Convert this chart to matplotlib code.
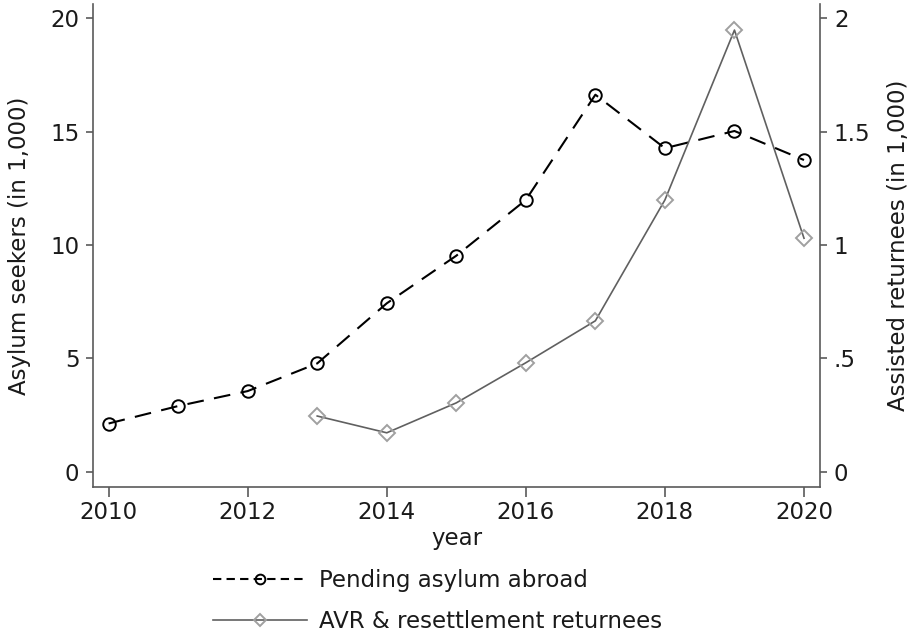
import numpy as np
import matplotlib.pyplot as plt
from matplotlib.lines import Line2D

years = [2010, 2011, 2012, 2013, 2014, 2015, 2016, 2017, 2018, 2019, 2020]
pending = [2.13, 2.90, 3.56, 4.78, 7.43, 9.53, 11.99, 16.63, 14.27, 15.03, 13.75]

avr_years = [2013, 2014, 2015, 2016, 2017, 2018, 2019, 2020]
avr = [0.246, 0.172, 0.304, 0.481, 0.666, 1.199, 1.948, 1.030]

left_ticks = [0, 5, 10, 15, 20]
right_ticks = [0, 0.5, 1, 1.5, 2]
right_labels = ['0', '.5', '1', '1.5', '2']
x_ticks = [2010, 2012, 2014, 2016, 2018, 2020]

plt.rcParams['font.family'] = 'DejaVu Sans'
plt.rcParams['font.size'] = 16.5

spine_col = '#5a5a5a'
text_col = '#1a1a1a'

fig = plt.figure(figsize=(9.1, 6.37), dpi=100)
ax = fig.add_axes([93.3 / 910, 1 - 487 / 637, (820 - 93.3) / 910, (487 - 4) / 637])
ax2 = ax.twinx()

ax.plot(years, pending, color='black', lw=1.5, dashes=(8, 5),
        marker='o', markersize=9, markerfacecolor='none',
        markeredgecolor='black', markeredgewidth=1.4)
ax2.plot(avr_years, avr, color='#606060', lw=1.2,
         marker='D', markersize=8, markerfacecolor='none',
         markeredgecolor='#a0a0a0', markeredgewidth=1.4)

ax.set_xlim(2009.78, 2020.23)
ax.set_ylim(-0.67, 20.63)
ax2.set_ylim(-0.067, 2.063)

ax.set_xticks(x_ticks)
ax.set_yticks(left_ticks)
ax2.set_yticks(right_ticks)
ax2.set_yticklabels(right_labels)

for a in (ax, ax2):
    a.spines['top'].set_visible(False)
    for s in a.spines.values():
        s.set_color(spine_col)
        s.set_linewidth(1.2)
    a.tick_params(length=5, width=1.2, color=spine_col, labelcolor=text_col, pad=5)
ax.tick_params(axis='x', length=7, pad=3)
ax.spines['right'].set_visible(False)
ax2.spines['left'].set_visible(False)
ax2.spines['bottom'].set_visible(False)

ax.set_xlabel('year', color=text_col, labelpad=2)
ax.set_ylabel('Asylum seekers (in 1,000)', color=text_col, labelpad=14)
ax2.set_ylabel('Assisted returnees (in 1,000)', color=text_col, labelpad=12)

handles = [
    Line2D([], [], color='black', lw=1.5, dashes=(4, 2.5), marker='o', markersize=7,
           markerfacecolor='none', markeredgecolor='black', markeredgewidth=1.4),
    Line2D([], [], color='#606060', lw=1.2, marker='D', markersize=6,
           markerfacecolor='none', markeredgecolor='#a0a0a0', markeredgewidth=1.4),
]
fig.legend(handles, ['Pending asylum abroad', 'AVR & resettlement returnees'],
           loc='center left', bbox_to_anchor=(192 / 910, 1 - 601 / 637),
           frameon=False, handlelength=4.1, handletextpad=0.55, labelspacing=0.75,
           labelcolor=text_col)

fig.savefig('out.png', dpi=100)
